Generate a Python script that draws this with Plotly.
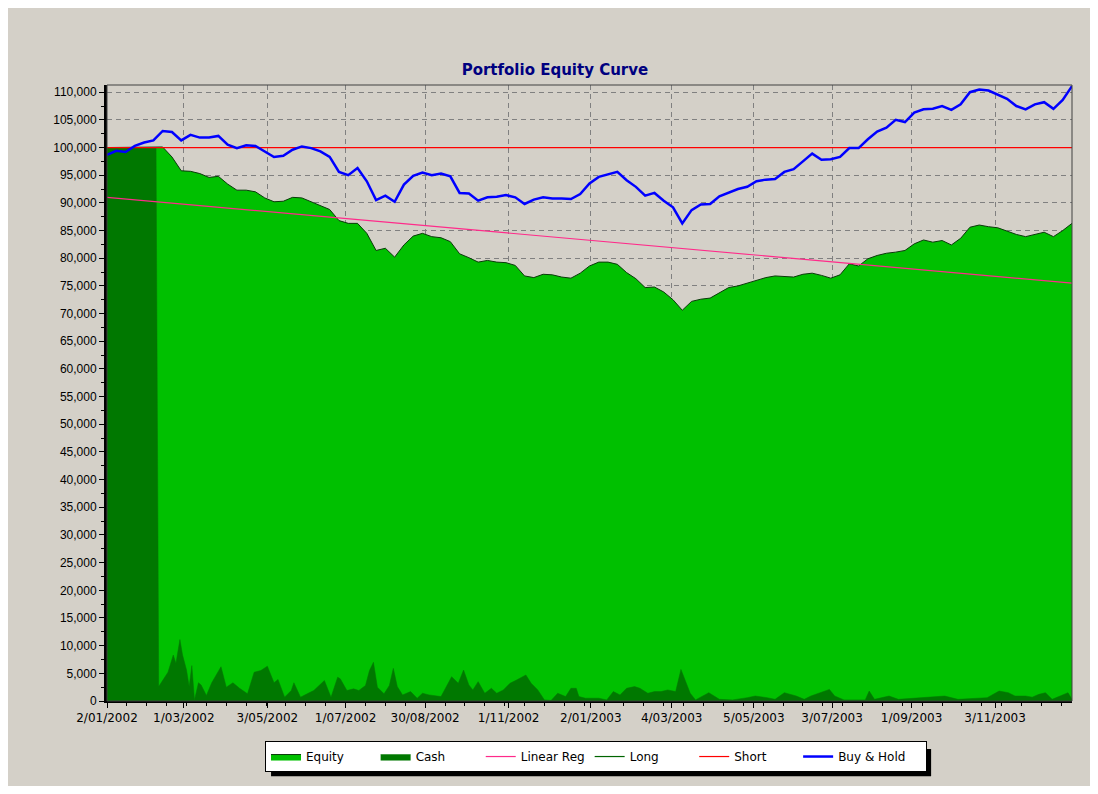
import pandas as pd
import plotly.graph_objects as go

# weekly closes (Wednesdays)
week_dates = pd.date_range("2002-01-02", "2003-12-31", freq="7D")

equity = [
    100000, 100000, 100000, 100000, 100000, 100000, 100100, 98300, 95800,
    95700, 95300, 94600, 94800, 93400, 92300, 92300, 92000, 90900,
    90200, 90300, 91000, 90900, 90200, 89500, 88800, 86800,
    86300, 86300, 84500, 81400, 81800, 80200, 82400, 84000, 84500,
    83900, 83700, 83000, 80800, 80100, 79300, 79600, 79300, 79200,
    78700, 76800, 76500, 77100, 77000, 76600, 76400, 77300, 78600,
    79300, 79300, 78900, 77400, 76300, 74700, 74800, 73900, 72500,
    70600, 72200, 72600, 72800, 73800, 74700, 75000, 75500,
    76100, 76500, 76800, 76700, 76600, 77100, 77300, 76900, 76400,
    77000, 79000, 78600, 79900, 80500, 80900, 81100, 81400,
    82600, 83300, 82900, 83200, 82400, 83600, 85600, 86000, 85700,
    85500, 84900, 84300, 83900, 84300, 84700, 83900, 85000, 86300,
]

buy_hold = [
    98700, 99400, 99200, 100300, 100900, 101300, 103000, 102800, 101300,
    102300, 101800, 101800, 102100, 100500, 99900, 100400, 100300, 99300,
    98300, 98500, 99600, 100200, 99900, 99300, 98300, 95600,
    95000, 96300, 93900, 90500, 91300, 90200, 93300, 94900, 95500,
    95000, 95300, 94800, 91800, 91700, 90400, 91000, 91100, 91400,
    91000, 89800, 90600, 91000, 90800, 90800, 90700, 91600, 93500,
    94700, 95200, 95600, 94100, 92900, 91300, 91800, 90400, 89200,
    86300, 88700, 89700, 89800, 91200, 91800, 92500, 92900,
    93900, 94200, 94300, 95600, 96100, 97500, 98900, 97800, 97900,
    98300, 99900, 99900, 101500, 102900, 103600, 105000, 104600,
    106300, 106900, 107000, 107500, 106800, 107800, 110000, 110500, 110300,
    109500, 108800, 107500, 106900, 107800, 108200, 107000, 108600, 111100,
]

cash_dates = [
    "2002-01-02", "2002-02-08", "2002-02-10", "2002-02-15", "2002-02-17", "2002-02-21",
    "2002-02-23", "2002-02-26", "2002-02-28", "2002-03-03", "2002-03-05", "2002-03-07",
    "2002-03-09", "2002-03-12", "2002-03-14", "2002-03-18", "2002-03-22", "2002-03-29",
    "2002-04-02", "2002-04-07", "2002-04-12", "2002-04-18", "2002-04-23", "2002-04-28",
    "2002-05-03", "2002-05-08", "2002-05-11", "2002-05-16", "2002-05-21", "2002-05-23",
    "2002-05-28", "2002-06-02", "2002-06-07", "2002-06-15", "2002-06-20", "2002-06-25",
    "2002-06-27", "2002-07-02", "2002-07-07", "2002-07-11", "2002-07-16", "2002-07-19",
    "2002-07-22", "2002-07-25", "2002-07-30", "2002-08-03", "2002-08-06", "2002-08-09",
    "2002-08-13", "2002-08-19", "2002-08-24", "2002-08-28", "2002-09-02", "2002-09-11",
    "2002-09-16", "2002-09-19", "2002-09-24", "2002-09-28", "2002-10-02", "2002-10-05",
    "2002-10-09", "2002-10-14", "2002-10-19", "2002-10-23", "2002-10-28", "2002-11-02",
    "2002-11-07", "2002-11-14", "2002-11-18", "2002-11-23", "2002-11-28", "2002-12-03",
    "2002-12-08", "2002-12-14", "2002-12-18", "2002-12-22", "2002-12-24", "2002-12-29",
    "2003-01-08", "2003-01-14", "2003-01-19", "2003-01-24", "2003-01-29", "2003-02-04",
    "2003-02-08", "2003-02-14", "2003-02-19", "2003-02-24", "2003-03-01", "2003-03-07",
    "2003-03-11", "2003-03-14", "2003-03-18", "2003-03-22", "2003-04-01", "2003-04-09",
    "2003-04-19", "2003-04-30", "2003-05-06", "2003-05-15", "2003-05-21", "2003-05-28",
    "2003-06-06", "2003-06-12", "2003-06-17", "2003-07-01", "2003-07-05", "2003-07-12",
    "2003-07-28", "2003-07-31", "2003-08-04", "2003-08-15", "2003-08-22", "2003-09-26",
    "2003-10-06", "2003-10-28", "2003-11-06", "2003-11-13", "2003-11-18", "2003-11-26",
    "2003-12-01", "2003-12-06", "2003-12-11", "2003-12-16", "2003-12-28", "2003-12-31",
]

cash = [
    100000, 100000, 2600, 4300, 5200, 8300,
    6800, 11100, 8300, 5600, 2600, 6400,
    200, 3300, 2900, 1000, 3300, 6200,
    2500, 3300, 2300, 1300, 5200, 5500,
    6300, 3300, 3900, 700, 1900, 3300,
    700, 1300, 1900, 3700, 700, 4300,
    4000, 1900, 2200, 1900, 2800, 5500,
    7000, 2500, 1300, 2800, 5900, 2600,
    1100, 1700, 500, 1400, 1100, 800,
    3200, 4400, 3200, 5600, 2900, 2000,
    3500, 1400, 2300, 1400, 2000, 3200,
    3800, 4700, 3200, 2000, 200, 100,
    1400, 800, 2300, 2300, 800, 500,
    500, 200, 1700, 1100, 2300, 2600,
    2300, 1400, 1700, 1700, 2000, 1700,
    5700, 3800, 1400, 200, 1500, 300,
    200, 600, 900, 600, 300, 1500,
    900, 300, 900, 2100, 900, 200,
    200, 1800, 300, 900, 300, 900,
    300, 600, 1800, 1500, 900, 900,
    700, 1200, 1500, 300, 1500, 300,
]

reg_dates = ["2002-01-02", "2003-12-31"]
linear_reg = [91000, 75500]
starting_capital = 100000

tick_dates = [
    "2002-01-02", "2002-03-01", "2002-05-03", "2002-07-01", "2002-08-30", "2002-11-01",
    "2003-01-02", "2003-03-04", "2003-05-05", "2003-07-03", "2003-09-01", "2003-11-03",
]
tick_labels = [
    "2/01/2002", "1/03/2002", "3/05/2002", "1/07/2002", "30/08/2002", "1/11/2002",
    "2/01/2003", "4/03/2003", "5/05/2003", "3/07/2003", "1/09/2003", "3/11/2003",
]

BG = "#D4D0C8"
FONT = "Liberation Sans"
WIDE_FONT = "DejaVu Sans"
NB = "\u00a0"  # padding so legend entries sit where the original has them

fig = go.Figure()

fig.add_trace(go.Scatter(
    x=week_dates, y=equity, name="Equity" + NB * 7, mode="lines",
    line=dict(color="#0A3A0A", width=1), fill="tozeroy", fillcolor="#00C000",
))
fig.add_trace(go.Scatter(
    x=pd.to_datetime(cash_dates), y=cash, name="Cash" + NB * 8, mode="lines",
    line=dict(color="#007800", width=0.5), fill="tozeroy", fillcolor="#007800",
))
fig.add_trace(go.Scatter(
    x=pd.to_datetime(reg_dates), y=linear_reg, name="Linear Reg", mode="lines",
    line=dict(color="#FF2A8A", width=1.2),
))
fig.add_trace(go.Scatter(
    x=[None], y=[None], name="Long" + NB * 8, mode="lines",
    line=dict(color="#006400", width=1.2),
))
fig.add_trace(go.Scatter(
    x=pd.to_datetime(reg_dates), y=[starting_capital] * 2, name="Short" + NB * 7, mode="lines",
    line=dict(color="#FF0000", width=1.2),
))
fig.add_trace(go.Scatter(
    x=week_dates, y=buy_hold, name="Buy & Hold" + NB * 4, mode="lines",
    line=dict(color="#0000FF", width=2.5),
))

fig.update_layout(
    width=1082, height=778,
    paper_bgcolor=BG, plot_bgcolor=BG,
    margin=dict(l=99, r=18, t=77, b=85, autoexpand=False),
    font=dict(family=FONT, size=12, color="black"),
    title=dict(
        text="<b>Portfolio Equity Curve</b>",
        font=dict(family=WIDE_FONT, size=15, color="#000080"),
        x=0.5055, xref="container", xanchor="center",
        y=0.920, yref="container", yanchor="middle",
    ),
    showlegend=True,
    legend=dict(
        orientation="h", xref="container", yref="container",
        x=0.2375, xanchor="left", y=0.0578, yanchor="top",
        bgcolor="white", bordercolor="black", borderwidth=1,
        font=dict(family=WIDE_FONT, size=12), itemwidth=30, tracegroupgap=0,
    ),
)

fig.update_xaxes(
    type="date", range=["2002-01-02", "2003-12-31"],
    tickvals=tick_dates, ticktext=tick_labels,
    tickfont=dict(family=WIDE_FONT, size=12),
    showgrid=True, gridcolor="#808080", griddash="5px,4px", gridwidth=1,
    showline=True, linecolor="black", linewidth=2,
    ticks="outside", ticklen=5, tickcolor="black",
    minor=dict(ticks="outside", ticklen=3, tickcolor="black", dtick=15 * 86400000,
               tick0="2002-01-02", showgrid=False),
    zeroline=False,
)
fig.update_yaxes(
    range=[0, 111300], dtick=5000, tickformat=",d",
    showgrid=True, gridcolor="#808080", griddash="5px,4px", gridwidth=1,
    showline=True, linecolor="black", linewidth=3,
    ticks="outside", ticklen=5, tickcolor="black",
    minor=dict(ticks="outside", ticklen=3, tickcolor="black", dtick=2500, showgrid=False),
    zeroline=False,
)

# frame around the plot area
fig.add_shape(type="rect", xref="paper", yref="paper", x0=0, x1=1, y0=0, y1=1,
              line=dict(color="#404040", width=1), layer="above")
# drop shadow behind the legend box
fig.add_shape(type="rect", xref="paper", yref="paper",
              x0=0.170, x1=0.854, y0=-0.122, y1=-0.078,
              fillcolor="black", line=dict(width=0), layer="below")

fig.write_html("out.html")
